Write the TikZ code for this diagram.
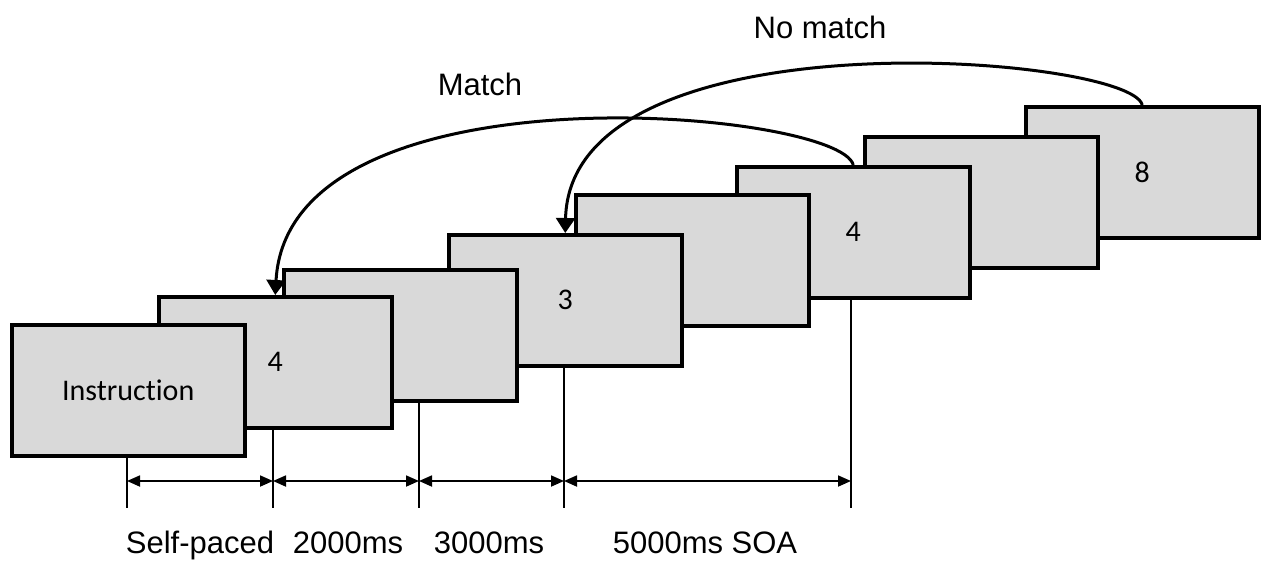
\documentclass[tikz,border=0pt]{standalone}
\usepackage{fontspec}
\setmainfont{Carlito}[Ligatures=NoCommon]
\newfontfamily\labelfont{Liberation Sans}
\usepackage{tikz}
\usetikzlibrary{arrows.meta,positioning}
\definecolor{slidegray}{HTML}{D9D9D9}

\begin{document}
\begin{tikzpicture}[x=1pt,y=-1pt,
    slide/.style={draw,line width=3.5pt,fill=slidegray,anchor=north west,
      minimum width=233pt,minimum height=131pt,inner sep=0pt,
      font=\fontsize{30}{36}\selectfont},
    txt/.style={anchor=base,inner sep=0pt,font=\labelfont\fontsize{31}{37}\selectfont},
    jump/.style={line width=3pt,-{Triangle[length=15pt,width=19pt]}},
    tick/.style={line width=1.8pt},
    span/.style={line width=1.8pt,
      {Triangle[length=13pt,width=11pt]}-{Triangle[length=13pt,width=11pt]}}]
    \useasboundingbox (0,0) rectangle (1261,562);
    % slides, back to front
    \node[slide] (s_8) at (1024,105) {8};
    \node[slide] (s_7) at (863,135)  {};
    \node[slide] (s_6) at (735,165)  {4};
    \node[slide] (s_5) at (574,193)  {};
    \node[slide] (s_4) at (447,233)  {3};
    \node[slide] (s_3) at (282,268)  {};
    \node[slide] (s_2) at (157,295)  {4};
    \node[slide] (s_1) at (10,323)   {Instruction};
    % n-back arcs
    \draw[jump] (s_6.north) .. controls (840,110) and (288,60) .. (s_2.north);
    \draw[jump] (s_8.north) .. controls (1130,55) and (570,10) .. (s_4.north);
    \node[txt] (match)   at (480,95) {Match};
    \node[txt] (nomatch) at (820,38) {No match};
    % time line
    \coordinate (t_1) at (127,508);
    \coordinate (t_2) at (273,508);
    \coordinate (t_3) at (419,508);
    \coordinate (t_4) at (564,508);
    \coordinate (t_5) at (851,508);
    \coordinate (d_1) at (127,481);
    \coordinate (d_2) at (273,481);
    \coordinate (d_3) at (419,481);
    \coordinate (d_4) at (564,481);
    \coordinate (d_5) at (851,481);
    \draw[tick] (t_1 |- s_1.south) -- (t_1);
    \draw[tick] (t_2 |- s_2.south) -- (t_2);
    \draw[tick] (t_3 |- s_3.south) -- (t_3);
    \draw[tick] (t_4 |- s_4.south) -- (t_4);
    \draw[tick] (t_5 |- s_6.south) -- (t_5);
    \draw[span] (d_1) -- (d_2);
    \draw[span] (d_2) -- (d_3);
    \draw[span] (d_3) -- (d_4);
    \draw[span] (d_4) -- (d_5);
    % durations
    \node[txt] (l_1) at (200,553) {Self-paced};
    \node[txt] (l_2) at (348,553) {2000ms};
    \node[txt] (l_3) at (489,553) {3000ms};
    \node[txt] (l_4) at (705,553) {5000ms SOA};
\end{tikzpicture}
\end{document}
